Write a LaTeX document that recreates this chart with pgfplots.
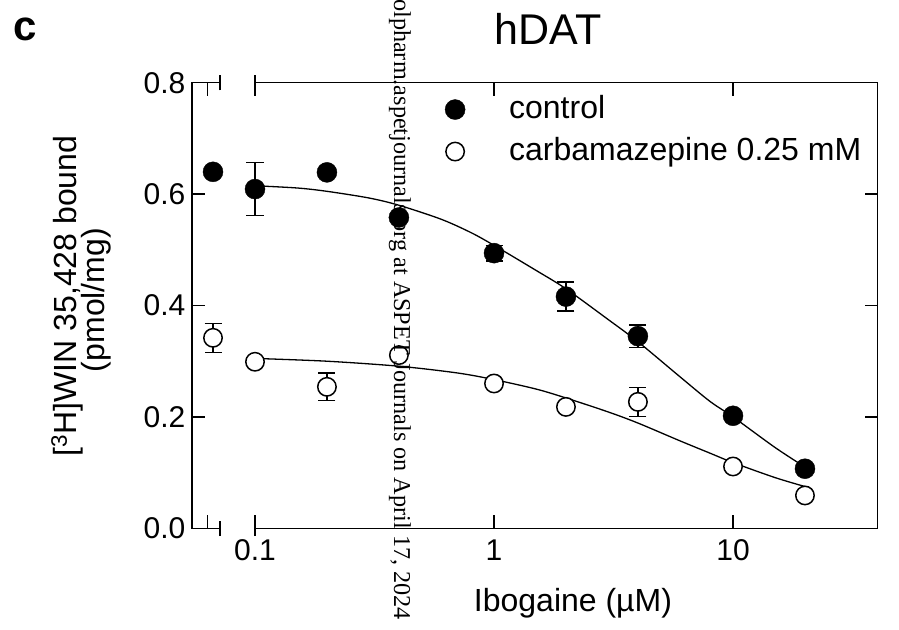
\documentclass[border=0pt]{standalone}
\usepackage{fontspec}
\setmainfont{Liberation Sans}
\newfontfamily\wmfont{Liberation Serif}
\usepackage{pgfplots}
\pgfplotsset{compat=1.18}
\pgfplotsset{
  mystyle/.style={
    scale only axis, height=445.6pt, ymin=0, ymax=0.8,
    ytick={0,0.2,0.4,0.6,0.8},
    anchor=south west, clip=false,
    axis line style={draw=none},
    tick align=inside, major tick length=13pt,
    every tick/.style={line width=1.3pt, black},
    tick label style={font=\fontsize{30}{36}\selectfont},
    /pgf/number format/assume math mode=true,
  },
  filledpts/.style={only marks, mark=*, mark size=10pt, black,
    error bars/.cd, y dir=both, y explicit,
    error bar style={line width=1.3pt, black},
    error mark options={rotate=90, mark size=8.5pt, line width=1.3pt, black}},
  openpts/.style={only marks, mark=*, mark size=9.2pt, black,
    mark options={fill=white, draw=black, line width=1.5pt},
    error bars/.cd, y dir=both, y explicit,
    error bar style={line width=1.3pt, black},
    error mark options={rotate=90, mark size=8.5pt, line width=1.3pt, black}},
}
\begin{document}
\begin{tikzpicture}
% left (broken) segment
\begin{axis}[mystyle, at={(192pt,-528.3pt)}, width=28pt,
  xmin=0, xmax=1, xtick={0.56}, xticklabels={},
  ytick pos=left,
  yticklabel style={inner sep=0pt, xshift=-6.5pt,
    /pgf/number format/fixed, /pgf/number format/fixed zerofill,
    /pgf/number format/precision=1},
]
\addplot[openpts] coordinates {(0.75,0.342) +- (0,0.026)};
\addplot[filledpts] coordinates {(0.75,0.640) +- (0,0)};
\draw[line width=1.3pt] (rel axis cs:1,0) -- (rel axis cs:0,0) -- (rel axis cs:0,1) -- (rel axis cs:1,1);
\draw[line width=1.3pt] (rel axis cs:1,0) ++(0pt,-7.7pt) -- ++(0pt,15.4pt);
\draw[line width=1.3pt] (rel axis cs:1,1) ++(0pt,-7.7pt) -- ++(0pt,15.4pt);
\end{axis}
% main log segment
\begin{axis}[mystyle, at={(255pt,-528.3pt)}, width=622.7pt,
  xmode=log, xmin=0.1, xmax=40.3, xtick={0.1,1,10}, xticklabels={0.1,1,10},
  xminorticks=false,
  ytick pos=right, yticklabels={},
  xticklabel style={inner sep=0pt, yshift=-11pt},
  legend image code/.code={\draw[mark repeat=2,mark phase=2,#1] plot coordinates {(0pt,0pt) (18pt,0pt) (36pt,0pt)};},
  legend style={at={(rel axis cs:0.305,0.975)}, anchor=north west, draw=none, fill=none,
    inner sep=0pt, row sep=11pt, column sep=44pt,
    nodes={inner sep=0pt, text height=24pt, text depth=7pt},
    font=\fontsize{32}{38}\selectfont},
  legend cell align=left,
]
\addplot[filledpts] coordinates {
 (0.1,0.609) +- (0,0.048)
 (0.2,0.639) +- (0,0)
 (0.4,0.558) +- (0,0)
 (1,0.494) +- (0,0.014)
 (2,0.416) +- (0,0.026)
 (4,0.345) +- (0,0.020)
 (10,0.202) +- (0,0)
 (20,0.107) +- (0,0)
};
\addlegendentry{control}
\addplot[openpts] coordinates {
 (0.1,0.299) +- (0,0)
 (0.2,0.254) +- (0,0.025)
 (0.4,0.311) +- (0,0)
 (1,0.260) +- (0,0)
 (2,0.218) +- (0,0)
 (4,0.227) +- (0,0.026)
 (10,0.111) +- (0,0)
 (20,0.059) +- (0,0)
};
\addlegendentry{carbamazepine 0.25 mM}
\addplot[smooth, line width=1.3pt, black, forget plot] coordinates {
 (0.1,0.615) (0.15,0.611) (0.2,0.605) (0.3,0.593) (0.4,0.580) (0.6,0.555)
 (0.8,0.531) (1,0.508) (1.5,0.463) (2,0.430) (3,0.375) (4,0.335)
 (6,0.272) (8,0.228) (10,0.200) (15,0.145) (20,0.110)
};
\addplot[smooth, line width=1.3pt, black, forget plot] coordinates {
 (0.1,0.305) (0.2,0.300) (0.4,0.291) (0.7,0.279) (1,0.267) (1.5,0.250)
 (2,0.234) (3,0.209) (4,0.189) (6,0.157) (8,0.135) (10,0.118)
 (15,0.091) (20,0.075)
};
\draw[line width=1.3pt] (rel axis cs:0,0) -- (rel axis cs:1,0) -- (rel axis cs:1,1) -- (rel axis cs:0,1);
\draw[line width=1.3pt] (rel axis cs:0,0) ++(0pt,-7.7pt) -- ++(0pt,15.4pt);
\draw[line width=1.3pt] (rel axis cs:0,1) ++(0pt,-7.7pt) -- ++(0pt,15.4pt);
\end{axis}
% texts
\node[anchor=base, font=\fontsize{43}{50}\selectfont, inner sep=0pt] at (548pt,-44pt) {hDAT};
\node[anchor=base, font=\bfseries\fontsize{42}{50}\selectfont, inner sep=0pt] at (25pt,-40pt) {c};
\node[anchor=base, font=\fontsize{32}{38}\selectfont, inner sep=0pt] at (573pt,-611pt) {Ibogaine (µM)};
\node[rotate=90, anchor=base, font=\fontsize{32}{38}\selectfont, inner sep=0pt] at (76pt,-296pt) {[\textsuperscript{3}H]WIN 35,428 bound};
\node[rotate=90, anchor=base, font=\fontsize{32}{38}\selectfont, inner sep=0pt] at (104pt,-300pt) {(pmol/mg)};
\node[rotate=-90, anchor=east, inner sep=0pt, font=\wmfont\fontsize{24.2}{28}\selectfont] at (400pt,-620pt) {olpharm.aspetjournals.org at ASPET Journals on April 17, 2024};
\pgfresetboundingbox
\path (0pt,0pt) rectangle (899pt,-629pt);
\end{tikzpicture}
\end{document}
